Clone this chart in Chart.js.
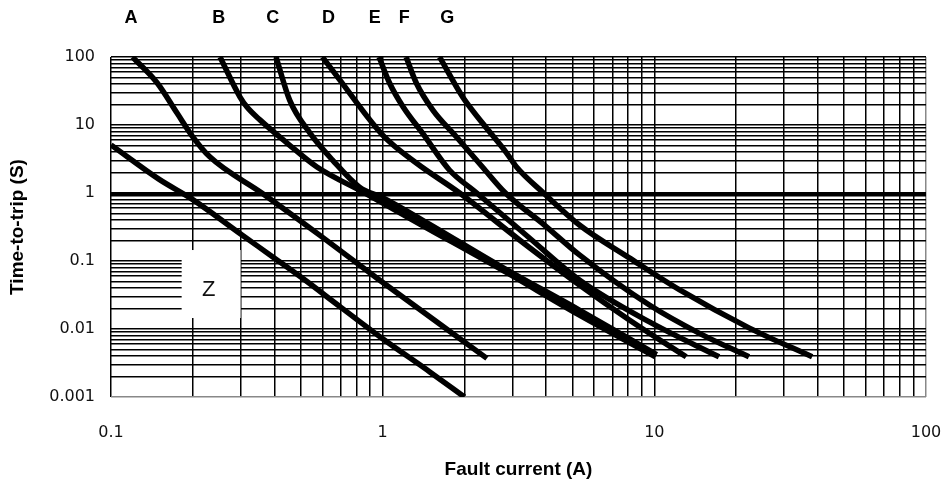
<!DOCTYPE html>
<html>
<head>
<meta charset="utf-8">
<script src="https://cdn.jsdelivr.net/npm/chart.js@4.4.0/dist/chart.umd.min.js"></script>
<style>
html,body{margin:0;padding:0;background:#fff;}
#wrap{width:952px;height:485px;}
</style>
</head>
<body>
<div id="wrap"><canvas id="c" width="952" height="485"></canvas></div>
<script>
// ---- Data (fault current in A, time-to-trip in s) ----
const curveNames = ['Z','A','B','C','D','E','F','G'];

const currentZ = [0.1, 0.15, 0.2, 0.3, 0.4, 0.5, 0.7, 1.0, 1.5, 2.0];
const timeZ    = [5.1, 1.6, 0.8, 0.25, 0.11, 0.058, 0.021, 0.0072, 0.0023, 0.001];

const currentA = [0.12, 0.148, 0.175, 0.2, 0.231, 0.359, 0.586, 0.97, 2.42];
const timeA    = [100, 41.5, 15, 6.7, 3.4, 1.0, 0.24, 0.053, 0.0037];

const currentB = [0.252, 0.2985, 0.3166, 0.3534, 0.4446, 0.573, 0.86, 1.37, 2.7, 5.3, 10.1];
const timeB    = [100, 25.8, 18.4, 11.9, 5.43, 2.41, 1.0, 0.35, 0.077, 0.016, 0.0039];

const currentC = [0.405, 0.455, 0.54, 0.654, 0.822, 1.0, 1.4, 2.7, 5.3, 10.2];
const timeC    = [100, 23, 7.6, 3.05, 1.22, 0.85, 0.4, 0.085, 0.019, 0.0042];

const currentD = [0.6, 0.695, 1.0, 1.33, 1.92, 3.19, 5.3, 8.09, 13.1];
const timeD    = [100, 46, 7.1, 2.76, 1.0, 0.204, 0.0445, 0.0136, 0.0039];

const currentE = [0.97, 1.06, 1.19, 1.4, 1.76, 2.22, 3.47, 5.3, 9.59, 17.3];
const timeE    = [100, 41.5, 18.4, 7.63, 2.18, 1.0, 0.218, 0.0526, 0.0127, 0.0039];

const currentF = [1.22, 1.33, 1.53, 1.87, 2.33, 2.83, 3.94, 5.3, 9.59, 14.6, 22.3];
const timeF    = [100, 41.5, 16.6, 6.66, 2.41, 1.0, 0.338, 0.123, 0.0225, 0.0087, 0.0039];

const currentG = [1.62, 1.97, 2.33, 2.86, 3.11, 3.91, 5.3, 8.09, 12.4, 22.3, 38.1];
const timeG    = [100, 25.8, 10.7, 3.87, 2.41, 1.0, 0.338, 0.111, 0.0375, 0.0104, 0.0039];

// curve label anchors (fault current at which each letter sits above the plot)
const topLabels  = ['A','B','C','D','E','F','G'];
const topLabelAt = [0.1185, 0.249, 0.394, 0.632, 0.935, 1.2, 1.73];

// Z label box (data units)
const zBoxCurrent = [0.182, 0.3];
const zBoxTime    = [0.0145, 0.145];
const zLabelAt    = [0.229, 0.0375];

// axis ticks
const xMin = 0.1, xMax = 100, yMin = 0.001, yMax = 100;
const xDecades = [0.1, 1, 10, 100];
const xTickLabels = ['0.1', '1', '10', '100'];
const yDecades = [0.001, 0.01, 0.1, 1, 10, 100];
const yTickLabels = ['0.001', '0.01', '0.1', '1', '10', '100'];

// ---- build ----
const curves = [
  [currentZ, timeZ], [currentA, timeA], [currentB, timeB], [currentC, timeC],
  [currentD, timeD], [currentE, timeE], [currentF, timeF], [currentG, timeG]
];

function logGrid(min, max) {
  const out = [];
  const e0 = Math.round(Math.log10(min)), e1 = Math.round(Math.log10(max));
  for (let e = e0; e < e1; e++) {
    for (let m = 1; m < 10; m++) out.push(Number((m * Math.pow(10, e)).toPrecision(3)));
  }
  out.push(max);
  return out;
}
function near(a, b) { return Math.abs(Math.log10(a) - Math.log10(b)) < 1e-6; }

const datasets = curves.map((c, i) => ({
  label: curveNames[i],
  data: c[0].map((v, k) => ({ x: v, y: c[1][k] })),
  borderColor: '#000',
  borderWidth: 5.5,
  pointRadius: 0,
  fill: false,
  cubicInterpolationMode: 'monotone',
  borderCapStyle: 'butt',
  borderJoinStyle: 'round'
}));

const labelPlugin = {
  id: 'labels',
  beforeDatasetsDraw(chart) {
    const { ctx, scales: { x, y } } = chart;
    const x1 = x.getPixelForValue(zBoxCurrent[0]), x2 = x.getPixelForValue(zBoxCurrent[1]);
    const y1 = y.getPixelForValue(zBoxTime[1]), y2 = y.getPixelForValue(zBoxTime[0]);
    ctx.save();
    ctx.fillStyle = '#fff';
    ctx.fillRect(x1, y1, x2 - x1, y2 - y1);
    ctx.fillStyle = '#111';
    ctx.font = '22px "Liberation Sans", Arial, sans-serif';
    ctx.textAlign = 'center';
    ctx.textBaseline = 'middle';
    ctx.fillText('Z', x.getPixelForValue(zLabelAt[0]), y.getPixelForValue(zLabelAt[1]));
    ctx.restore();
  },
  afterDraw(chart) {
    const { ctx, scales: { x } } = chart;
    ctx.save();
    ctx.fillStyle = '#000';
    ctx.font = 'bold 18px "Liberation Sans", Arial, sans-serif';
    ctx.textAlign = 'center';
    ctx.textBaseline = 'middle';
    topLabels.forEach((t, i) => ctx.fillText(t, x.getPixelForValue(topLabelAt[i]), 18));
    ctx.restore();
  }
};

new Chart(document.getElementById('c'), {
  type: 'line',
  data: { datasets },
  plugins: [labelPlugin],
  options: {
    responsive: false,
    animation: false,
    devicePixelRatio: 1,
    layout: { padding: { top: 57, right: 26, left: 0, bottom: 0 } },
    plugins: { legend: { display: false }, tooltip: { enabled: false } },
    scales: {
      x: {
        type: 'logarithmic', min: xMin, max: xMax,
        afterBuildTicks: s => { s.ticks = logGrid(xMin, xMax).map(v => ({ value: v })); },
        afterFit: s => { s.height = 88; s.paddingRight = 0; s.paddingLeft = 0; },
        border: { display: false },
        grid: {
          drawTicks: false,
          color: c => (c.tick && near(c.tick.value, xMax)) ? '#888' : '#000',
          lineWidth: 1.5
        },
        ticks: {
          autoSkip: false, maxRotation: 0, padding: 26, color: '#111',
          font: { family: '"DejaVu Sans", sans-serif', size: 16 },
          callback: v => { const i = xDecades.findIndex(d => near(d, v)); return i >= 0 ? xTickLabels[i] : ''; }
        },
        title: {
          display: true, text: 'Fault current (A)', color: '#000',
          font: { family: '"Liberation Sans", Arial, sans-serif', size: 19, weight: 'bold' },
          padding: { top: 0, bottom: 4 }
        }
      },
      y: {
        type: 'logarithmic', min: yMin, max: yMax,
        afterBuildTicks: s => { s.ticks = logGrid(yMin, yMax).map(v => ({ value: v })); },
        afterFit: s => { s.width = 111; s.paddingTop = 0; s.paddingBottom = 0; },
        border: { display: false },
        grid: {
          drawTicks: false,
          color: c => (c.tick && near(c.tick.value, yMin)) ? '#888' : '#000',
          lineWidth: c => (c.tick && near(c.tick.value, 1)) ? 3 : 1.5
        },
        ticks: {
          autoSkip: false, padding: 16, color: '#111',
          font: { family: '"DejaVu Sans", sans-serif', size: 16 },
          callback: v => { const i = yDecades.findIndex(d => near(d, v)); return i >= 0 ? yTickLabels[i] : ''; }
        },
        title: {
          display: true, text: 'Time-to-trip (S)', color: '#000',
          font: { family: '"Liberation Sans", Arial, sans-serif', size: 19, weight: 'bold' },
          padding: { top: 6, bottom: 0 }
        }
      }
    }
  }
});
</script>
</body>
</html>
